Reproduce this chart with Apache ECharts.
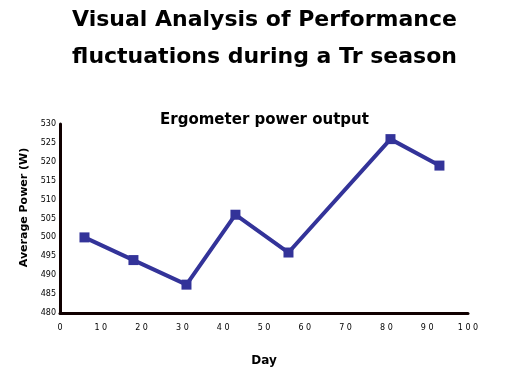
<!DOCTYPE html>
<html><head><meta charset="utf-8">
<script src="https://cdn.jsdelivr.net/npm/echarts@6/dist/echarts.min.js"></script>
<style>html,body{margin:0;padding:0;background:#fff}#c{width:529px;height:392px}</style>
</head><body><div id="c"></div>
<script>
const days = [6, 18, 31, 43, 56, 81, 93];
const power = [500, 494, 487.5, 506, 496, 526, 519];
const xTicks = [0, 100, 10];
const yTicks = [480, 530, 5];
const chart = echarts.init(document.getElementById('c'));
chart.setOption({
  backgroundColor: '#fff',
  animation: false,
  title: [
    {text: 'Visual Analysis of Performance\nfluctuations during a Tr season', left: 'center', top: 2,
     padding: [0, 5, 5, 5],
     textStyle: {fontFamily: 'DejaVu Sans', fontWeight: 'bold', fontSize: 22, lineHeight: 37, color: '#000'}},
    {text: 'Ergometer power output', left: 'center', top: 108,
     textStyle: {fontFamily: 'DejaVu Sans', fontWeight: 'bold', fontSize: 15, color: '#000'}}
  ],
  grid: {left: 60, right: 61, top: 124, bottom: 79},
  xAxis: {
    type: 'value', min: xTicks[0], max: xTicks[1], interval: xTicks[2],
    name: 'Day', nameLocation: 'middle', nameGap: 42,
    nameTextStyle: {fontFamily: 'DejaVu Sans', fontWeight: 'bold', fontSize: 12, color: '#000'},
    axisLine: {lineStyle: {color: '#100000', width: 3}},
    axisTick: {show: false}, splitLine: {show: false},
    axisLabel: {fontSize: 8, color: '#000', margin: 11, fontFamily: 'DejaVu Sans',
      formatter: v => String(v).split('').join(' ')}
  },
  yAxis: {
    type: 'value', min: yTicks[0], max: yTicks[1], interval: yTicks[2],
    name: 'Average Power (W)', nameLocation: 'middle', nameGap: 27, nameRotate: 90,
    nameTextStyle: {fontFamily: 'DejaVu Sans', fontWeight: 'bold', fontSize: 11, color: '#000',
      padding: [0, 0, 0, 22]},
    axisLine: {show: true, lineStyle: {color: '#100000', width: 3}},
    axisTick: {show: false}, splitLine: {show: false},
    axisLabel: {fontSize: 8, color: '#000', margin: 4, fontFamily: 'DejaVu Sans'}
  },
  series: [{
    type: 'line', data: days.map((d, i) => [d, power[i]]),
    symbol: 'rect', symbolSize: 10,
    lineStyle: {color: '#333399', width: 4},
    itemStyle: {color: '#333399'}
  }]
});
</script></body></html>
